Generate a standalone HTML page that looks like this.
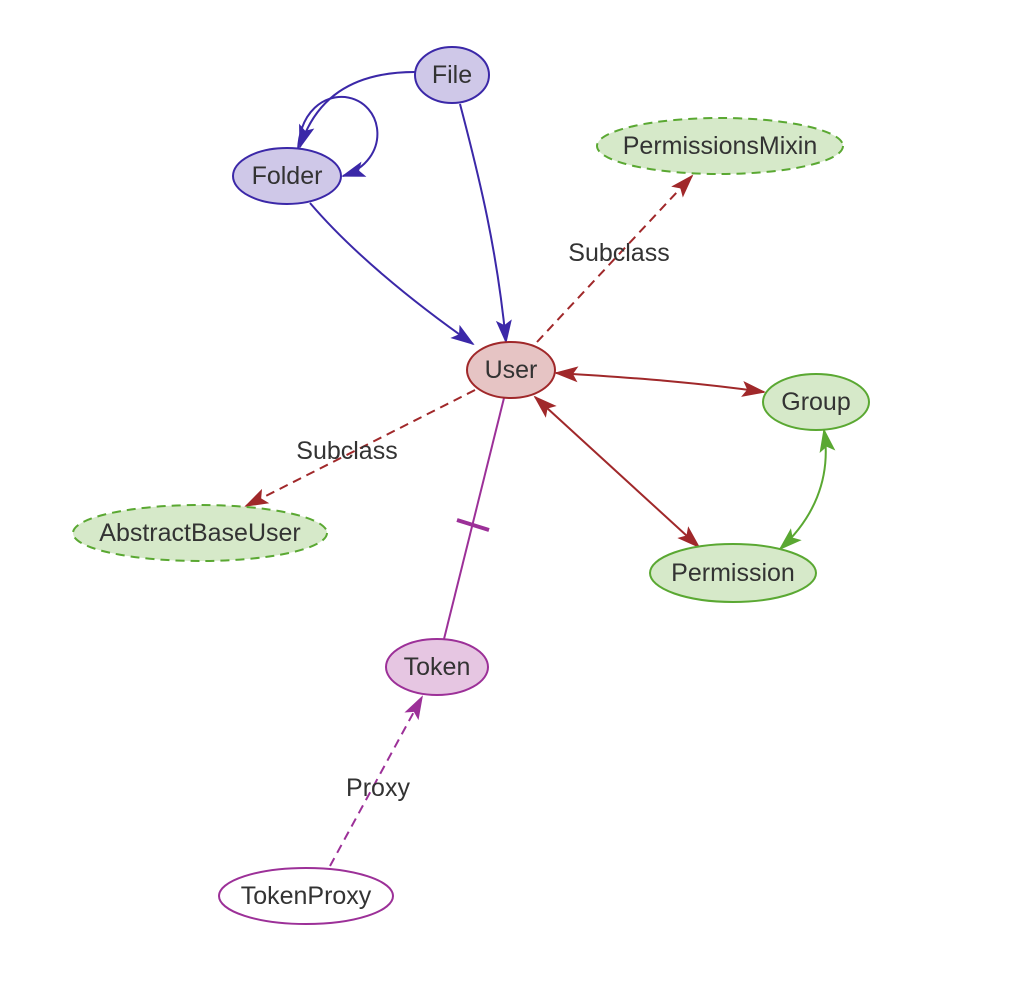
<!DOCTYPE html>
<html><head><meta charset="utf-8"><style>body{margin:0;background:#fff}svg{display:block}text{font-family:"Liberation Sans",sans-serif;font-size:25px;fill:#333;text-anchor:middle;dominant-baseline:central}</style></head>
<body>
<svg width="1020" height="988" viewBox="0 0 1020 988">
<defs>
<marker id="ar" viewBox="0 0 24 24" refX="22" refY="12" markerWidth="24" markerHeight="24" orient="auto-start-reverse" markerUnits="userSpaceOnUse"><path d="M0,4 L24,12 L0,20 L5,12 z" fill="#a0282a"/></marker>
<marker id="ab2" viewBox="0 0 24 24" refX="22" refY="12" markerWidth="24" markerHeight="24" orient="auto-start-reverse" markerUnits="userSpaceOnUse"><path d="M0,4 L24,12 L0,20 L5,12 z" fill="#3b28a8"/></marker>
<marker id="ag" viewBox="0 0 24 24" refX="22" refY="12" markerWidth="24" markerHeight="24" orient="auto-start-reverse" markerUnits="userSpaceOnUse"><path d="M0,4 L24,12 L0,20 L5,12 z" fill="#5aa832"/></marker>
<marker id="am" viewBox="0 0 24 24" refX="22" refY="12" markerWidth="24" markerHeight="24" orient="auto-start-reverse" markerUnits="userSpaceOnUse"><path d="M0,4 L24,12 L0,20 L5,12 z" fill="#9c3098"/></marker>
</defs>
<g fill="none" stroke-width="2">
<path d="M415,72 C350,72 315,100 300,147" stroke="#3b28a8" marker-end="url(#ab2)"/>
<path d="M298,150 C300,110 325,95 345,97 C385,102 392,160 343,176" stroke="#3b28a8" marker-end="url(#ab2)"/>
<path d="M460,104 C480,180 497,250 506,342" stroke="#3b28a8" marker-end="url(#ab2)"/>
<path d="M310,203 C350,250 410,300 473,344" stroke="#3b28a8" marker-end="url(#ab2)"/>
<path d="M537,342 L692,176" stroke="#a0282a" stroke-dasharray="9,6" marker-end="url(#ar)"/>
<path d="M556,373 C640,378 700,383 764,392" stroke="#a0282a" marker-start="url(#ar)" marker-end="url(#ar)"/>
<path d="M535,397 L699,547" stroke="#a0282a" marker-start="url(#ar)" marker-end="url(#ar)"/>
<path d="M824,430 C832,480 812,520 780,549" stroke="#5aa832" marker-start="url(#ag)" marker-end="url(#ag)"/>
<path d="M475,390 L246,506" stroke="#a0282a" stroke-dasharray="9,6" marker-end="url(#ar)"/>
<path d="M504,398 L444,639" stroke="#9c3098"/>
<path d="M457,520 L489,530" stroke="#9c3098" stroke-width="4"/>
<path d="M330,866 L422,697" stroke="#9c3098" stroke-dasharray="9,6" marker-end="url(#am)"/>
</g>
<g stroke-width="2">
<g><ellipse cx="452" cy="75" rx="37" ry="28" fill="#cfc8e8" stroke="#3b28a8"/><text x="452" y="75">File</text></g>
<g><ellipse cx="287" cy="176" rx="54" ry="28" fill="#cfc8e8" stroke="#3b28a8"/><text x="287" y="176">Folder</text></g>
<g><ellipse cx="720" cy="146" rx="123" ry="28" fill="#d6e9c9" stroke="#5aa832" stroke-dasharray="9,6"/><text x="720" y="146">PermissionsMixin</text></g>
<g><ellipse cx="511" cy="370" rx="44" ry="28" fill="#e6c4c4" stroke="#a0282a"/><text x="511" y="370">User</text></g>
<g><ellipse cx="816" cy="402" rx="53" ry="28" fill="#d6e9c9" stroke="#5aa832"/><text x="816" y="402">Group</text></g>
<g><ellipse cx="200" cy="533" rx="127" ry="28" fill="#d6e9c9" stroke="#5aa832" stroke-dasharray="9,6"/><text x="200" y="533">AbstractBaseUser</text></g>
<g><ellipse cx="733" cy="573" rx="83" ry="29" fill="#d6e9c9" stroke="#5aa832"/><text x="733" y="573">Permission</text></g>
<g><ellipse cx="437" cy="667" rx="51" ry="28" fill="#e6c6e2" stroke="#9c3098"/><text x="437" y="667">Token</text></g>
<g><ellipse cx="306" cy="896" rx="87" ry="28" fill="#fff" stroke="#9c3098"/><text x="306" y="896">TokenProxy</text></g>
</g>
<text x="619" y="253">Subclass</text>
<text x="347" y="451">Subclass</text>
<text x="378" y="788">Proxy</text>
</svg>
</body></html>
